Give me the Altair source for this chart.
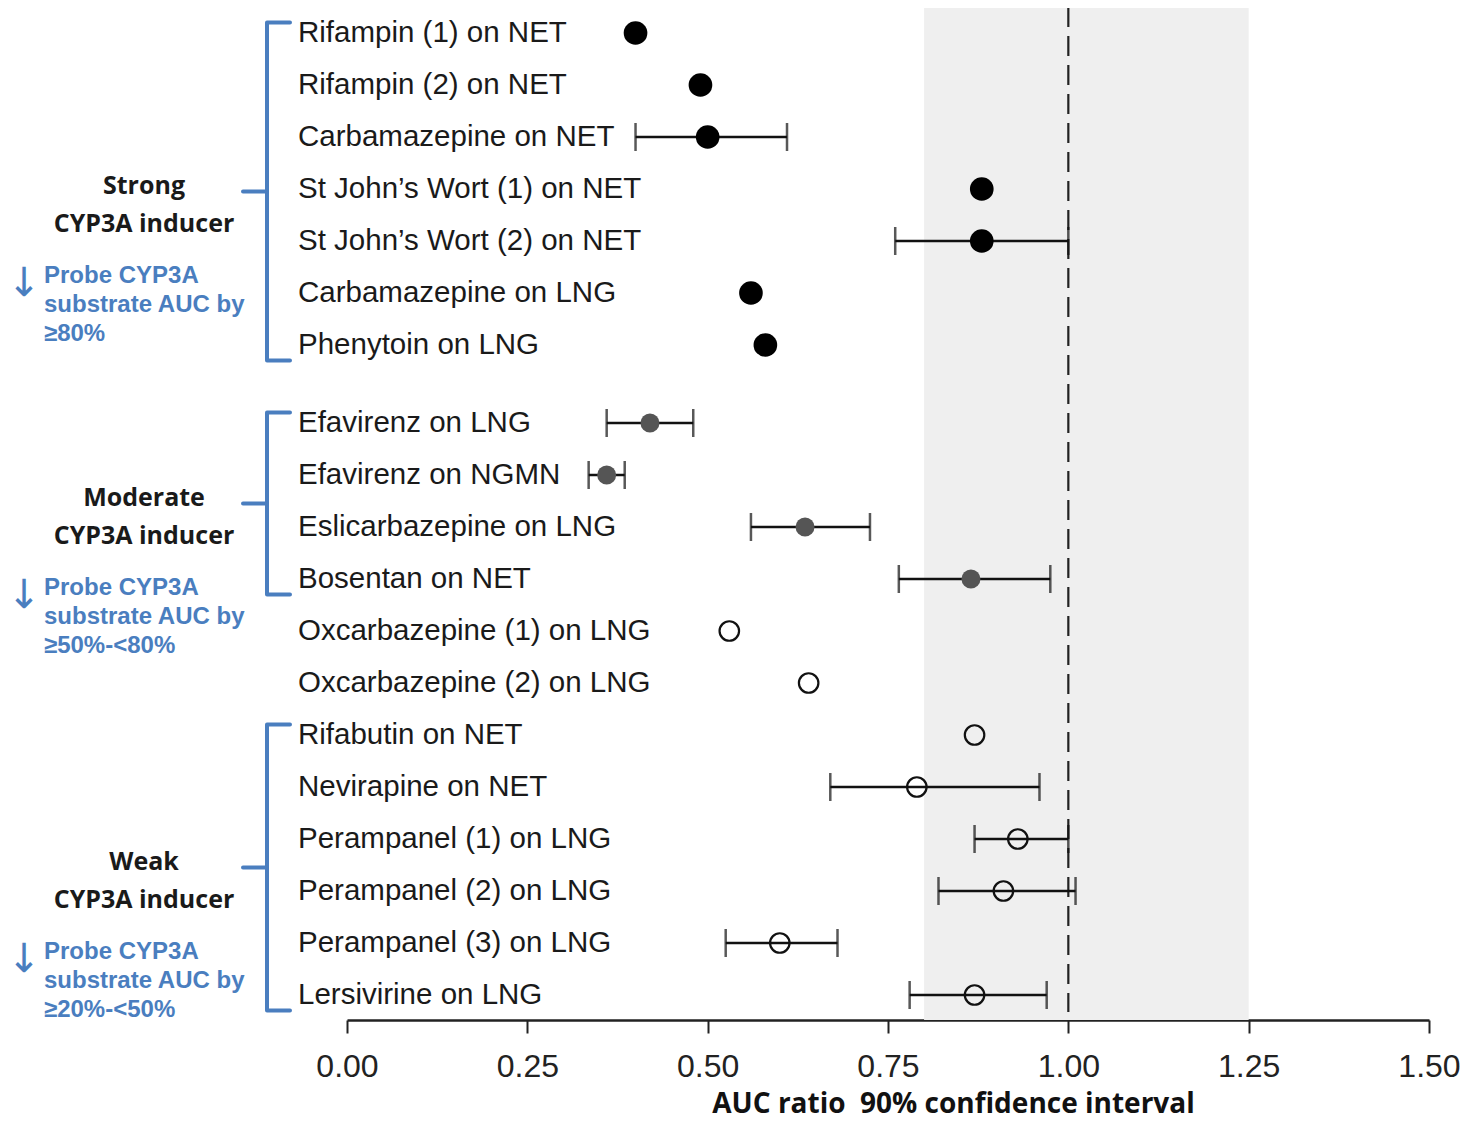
import altair as alt
import pandas as pd

# ---------------- data ----------------
labels = [
    "Rifampin (1) on NET", "Rifampin (2) on NET", "Carbamazepine on NET",
    "St John\u2019s Wort (1) on NET", "St John\u2019s Wort (2) on NET",
    "Carbamazepine on LNG", "Phenytoin on LNG",
    "Efavirenz on LNG", "Efavirenz on NGMN", "Eslicarbazepine on LNG", "Bosentan on NET",
    "Oxcarbazepine (1) on LNG", "Oxcarbazepine (2) on LNG",
    "Rifabutin on NET", "Nevirapine on NET",
    "Perampanel (1) on LNG", "Perampanel (2) on LNG", "Perampanel (3) on LNG",
    "Lersivirine on LNG",
]
ratio = [0.40, 0.49, 0.50, 0.88, 0.88, 0.56, 0.58,
         0.42, 0.36, 0.635, 0.865, 0.53, 0.64,
         0.87, 0.79, 0.93, 0.91, 0.60, 0.87]
ci_lo = [None, None, 0.40, None, 0.76, None, None,
         0.36, 0.335, 0.56, 0.765, None, None,
         None, 0.67, 0.87, 0.82, 0.525, 0.78]
ci_hi = [None, None, 0.61, None, 1.00, None, None,
         0.48, 0.385, 0.725, 0.975, None, None,
         None, 0.96, 1.00, 1.01, 0.68, 0.97]
inducer = ["strong"] * 7 + ["moderate"] * 4 + ["weak"] * 8

group_names = ["Strong\nCYP3A inducer", "Moderate\nCYP3A inducer", "Weak\nCYP3A inducer"]
group_notes = ["Probe CYP3A\nsubstrate AUC by\n\u226580%",
               "Probe CYP3A\nsubstrate AUC by\n\u226550%-<80%",
               "Probe CYP3A\nsubstrate AUC by\n\u226520%-<50%"]
group_first = ["Rifampin (1) on NET", "Efavirenz on LNG", "Rifabutin on NET"]
group_last = ["Phenytoin on LNG", "Bosentan on NET", "Lersivirine on LNG"]

band_lo = [0.80]
band_hi = [1.25]
reference_ratio = [1.0]
x_ticks = [0.0, 0.25, 0.5, 0.75, 1.0, 1.25, 1.5]
x_title = "AUC ratio\u00a0 90% confidence interval"

# ---------------- tables ----------------
rows = [i + (0.0 if c == "strong" else 0.5) for i, c in enumerate(inducer)]
df = pd.DataFrame({"label": labels, "ratio": ratio, "lo": ci_lo, "hi": ci_hi,
                   "inducer": inducer, "row": rows})
row_of = dict(zip(labels, rows))
gdf = pd.DataFrame({
    "name": group_names, "note": group_notes,
    "top": [row_of[f] - 0.2 for f in group_first],
    "bot": [row_of[l] + 0.3 for l in group_last],
})
gdf["mid"] = (gdf["top"] + gdf["bot"]) / 2
gdf["arrow"] = "\u2193"
band_df = pd.DataFrame({"band_lo": band_lo, "band_hi": band_hi})
ref_df = pd.DataFrame({"ref": reference_ratio})

# ---------------- encodings ----------------
W, H = 1082, 1012
PX = 52.0
d0 = -25.0 / PX
d1 = d0 + H / PX
yscale = alt.Scale(domain=[d0, d1], reverse=True, nice=False, zero=False)
xscale = alt.Scale(domain=[0, 1.5], nice=False, zero=False)
xaxis = alt.Axis(values=x_ticks, format=".2f", title=x_title,
                 grid=False, domainColor="#222", domainWidth=2.5, tickColor="#222",
                 tickWidth=2, tickSize=13, labelFontSize=32,
                 labelFont="Liberation Sans",
                 labelColor="#222", labelPadding=18, labelFlush=False, labelOverlap=False,
                 titleFont="Open Sans", titleFontWeight="bold", titleFontSize=28,
                 titleColor="#111", titleX=606, titleY=92, titleBaseline="alphabetic",
                 titleAlign="center")


def X(field):
    return alt.X(field, type="quantitative", scale=xscale, axis=xaxis)


def Y(field):
    return alt.Y(field, type="quantitative", scale=yscale, axis=None)


BLUE = "#4a7ebf"

band = alt.Chart(band_df).mark_rect(color="#efefef").encode(
    x=X("band_lo"), x2="band_hi", y=alt.value(-1), y2=alt.value(H))

refline = alt.Chart(ref_df).mark_rule(color="#222", strokeWidth=2.2, strokeDash=[20, 9]).encode(
    x=X("ref"), y=alt.value(-1), y2=alt.value(H - 8))

ci = alt.Chart(df).transform_filter("isValid(datum.lo)")
ci_line = ci.mark_rule(color="#111", strokeWidth=2.5).encode(x=X("lo"), x2="hi", y=Y("row"))
cap_lo = ci.mark_tick(color="#111", orient="vertical", size=28, thickness=2.5).encode(
    x=X("lo"), y=Y("row"))
cap_hi = ci.mark_tick(color="#111", orient="vertical", size=28, thickness=2.5).encode(
    x=X("hi"), y=Y("row"))

filled = alt.Chart(df).transform_filter("datum.inducer != 'weak'").mark_point(
    filled=True, shape="circle", opacity=1).encode(
    x=X("ratio"), y=Y("row"),
    fill=alt.Fill("inducer:N", scale=alt.Scale(domain=["strong", "moderate"],
                                               range=["#000000", "#555555"]), legend=None),
    size=alt.Size("inducer:N", scale=alt.Scale(domain=["strong", "moderate"],
                                               range=[560, 360]), legend=None))

open_pts = alt.Chart(df).transform_filter("datum.inducer == 'weak'").mark_point(
    filled=False, shape="circle", color="#111", strokeWidth=2.2, size=380, opacity=1).encode(
    x=X("ratio"), y=Y("row"))

label_text = alt.Chart(df).mark_text(align="left", baseline="middle", font="Liberation Sans",
                                     fontSize=29.5, color="#1a1a1a").encode(
    x=alt.value(-49), y=Y("row"), text="label:N")

g = alt.Chart(gdf)
spine = g.mark_rule(color=BLUE, strokeWidth=4).encode(x=alt.value(-80), y=Y("top"), y2="bot")
hook_top = g.mark_rule(color=BLUE, strokeWidth=4, strokeCap="round").encode(
    x=alt.value(-80), x2=alt.value(-57), y=Y("top"))
hook_bot = g.mark_rule(color=BLUE, strokeWidth=4, strokeCap="round").encode(
    x=alt.value(-80), x2=alt.value(-57), y=Y("bot"))
nub = g.mark_rule(color=BLUE, strokeWidth=4, strokeCap="round").encode(
    x=alt.value(-104), x2=alt.value(-80), y=Y("mid"))

gname = g.mark_text(align="center", baseline="middle", font="Open Sans", fontWeight="bold",
                    fontSize=25, lineHeight=38, lineBreak="\n", color="#1a1a1a", dy=-6).encode(
    x=alt.value(-203), y=Y("mid"), text="name:N")
gnote = g.mark_text(align="left", baseline="middle", font="Liberation Sans", fontWeight="bold",
                    fontSize=24, lineHeight=29, lineBreak="\n", color=BLUE, dy=84).encode(
    x=alt.value(-303), y=Y("mid"), text="note:N")
garrow = g.mark_text(align="center", baseline="middle", font="DejaVu Sans",
                     fontSize=40, color=BLUE, dy=92).encode(
    x=alt.value(-323), y=Y("mid"), text="arrow:N")

chart = alt.layer(band, refline, ci_line, cap_lo, cap_hi, filled, open_pts, label_text,
                  spine, hook_top, hook_bot, nub, gname, gnote, garrow).properties(
    width=W, height=H,
    autosize=alt.AutoSizeParams(type="none"),
    padding={"left": 339, "top": 0, "right": 31, "bottom": 100},
    background="white",
).configure_view(stroke=None)

chart.save("out.html", embed_options={"renderer": "svg", "actions": False})
